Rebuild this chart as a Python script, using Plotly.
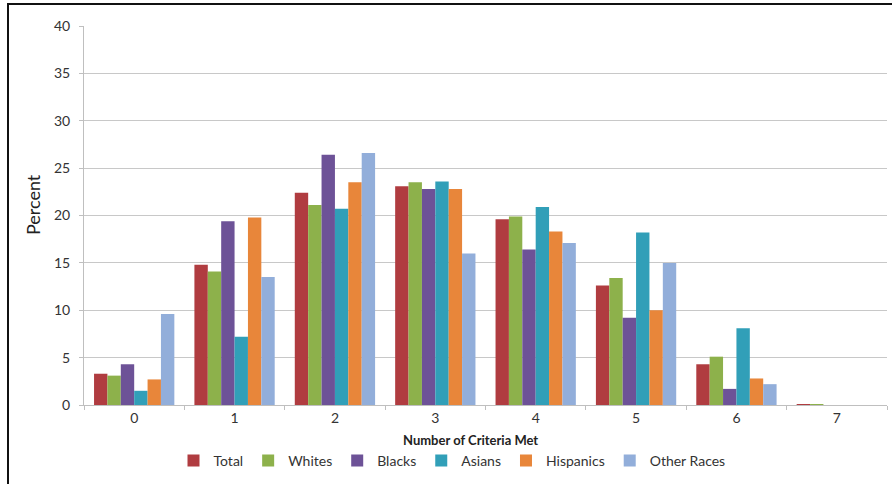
import plotly.graph_objects as go

categories = ["0", "1", "2", "3", "4", "5", "6", "7"]
total     = [3.3, 14.8, 22.4, 23.1, 19.6, 12.6, 4.3, 0.1]
whites    = [3.1, 14.1, 21.1, 23.5, 19.9, 13.4, 5.1, 0.1]
blacks    = [4.3, 19.4, 26.4, 22.8, 16.4, 9.2, 1.7, 0.0]
asians    = [1.5, 7.2, 20.7, 23.6, 20.9, 18.2, 8.1, 0.0]
hispanics = [2.7, 19.8, 23.5, 22.8, 18.3, 10.0, 2.8, 0.0]
others    = [9.6, 13.5, 26.6, 16.0, 17.1, 15.0, 2.2, 0.0]

series = [
    ("Total", total, "#B03C40"),
    ("Whites", whites, "#8DB14B"),
    ("Blacks", blacks, "#6D5297"),
    ("Asians", asians, "#319FB8"),
    ("Hispanics", hispanics, "#E8863A"),
    ("Other Races", others, "#92AEDA"),
]

FONT = "Lato, 'Liberation Sans', Arial, sans-serif"

fig = go.Figure()
for name, vals, col in series:
    fig.add_trace(go.Bar(x=categories, y=vals, name=name, marker_color=col,
                         marker_line_width=0))

W, H = 892, 484
L, R, T, B = 84, 5, 26, 79
pw, ph = W - L - R, H - T - B

def px_x(p):
    return (p - L) / pw

def px_y(p):
    return (H - B - p) / ph

fig.update_layout(
    width=W, height=H,
    margin=dict(l=L, r=R, t=T, b=B, autoexpand=False),
    paper_bgcolor="white", plot_bgcolor="white",
    barmode="group", bargap=0.2, bargroupgap=0,
    font=dict(family=FONT, size=13, color="#333333"),
    showlegend=True,
    legend=dict(orientation="h", x=px_x(452), xanchor="center", y=px_y(461), yanchor="middle",
                font=dict(size=14, color="#333333"), itemwidth=30,
                traceorder="normal"),
    xaxis=dict(type="category", showgrid=False, showline=True, linecolor="#BFBFBF",
               linewidth=1, ticks="outside", tickson="boundaries", ticklen=4,
               tickcolor="#BFBFBF", tickfont=dict(size=14, color="#333333")),
    yaxis=dict(range=[0, 40], dtick=5, showgrid=True, gridcolor="#C8C8C8", gridwidth=1,
               showline=True, linecolor="#BFBFBF", ticks="outside", ticklen=4,
               tickcolor="#BFBFBF", tickfont=dict(size=14, color="#333333"),
               ticklabelstandoff=6, zeroline=False),
    annotations=[
        dict(text="<b>Number of Criteria Met</b>", xref="paper", yref="paper",
             x=px_x(470), y=px_y(440),
             showarrow=False, font=dict(size=13, color="#222222"), xanchor="center",
             yanchor="middle"),
        dict(text="Percent", xref="paper", yref="paper", x=px_x(33), y=px_y(205),
             textangle=-90, showarrow=False, font=dict(size=18, color="#222222"),
             xanchor="center", yanchor="middle"),
    ],
    shapes=[
        dict(type="rect", xref="paper", yref="paper", x0=px_x(8), x1=px_x(900),
             y0=px_y(500), y1=px_y(4), line=dict(color="#111111", width=2),
             layer="below"),
    ],
)

fig.write_html("out.html", config={"displayModeBar": False},
               post_script="document.body.style.margin='0';document.body.style.padding='0';")
